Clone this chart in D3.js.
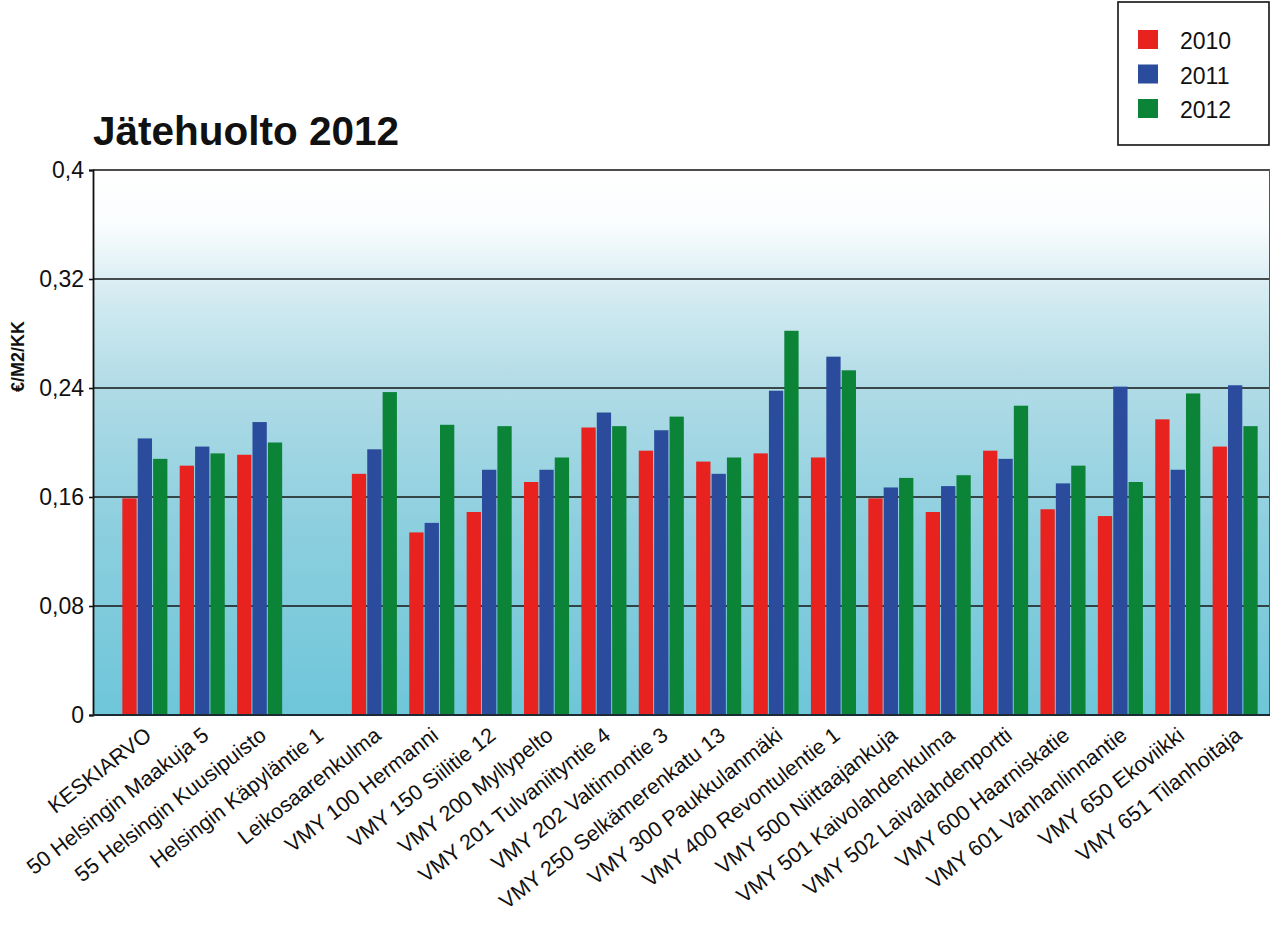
<!DOCTYPE html>
<html>
<head>
<meta charset="utf-8">
<script src="https://cdn.jsdelivr.net/npm/d3@7"></script>
<style>
  html, body { margin: 0; padding: 0; background: #fff; }
  svg { display: block; font-family: "Liberation Sans", Arial, sans-serif; }
</style>
</head>
<body>
<svg id="chart" width="1271" height="926"></svg>
<script>
const categories = [
  "KESKIARVO", "50 Helsingin Maakuja 5", "55 Helsingin Kuusipuisto", "Helsingin Käpyläntie 1",
  "Leikosaarenkulma", "VMY 100 Hermanni", "VMY 150 Siilitie 12", "VMY 200 Myllypelto",
  "VMY 201 Tulvaniityntie 4", "VMY 202 Valtimontie 3", "VMY 250 Selkämerenkatu 13",
  "VMY 300 Paukkulanmäki", "VMY 400 Revontulentie 1", "VMY 500 Niittaajankuja",
  "VMY 501 Kaivolahdenkulma", "VMY 502 Laivalahdenportti", "VMY 600 Haarniskatie",
  "VMY 601 Vanhanlinnantie", "VMY 650 Ekoviikki", "VMY 651 Tilanhoitaja"
];
const seriesNames = ["2010", "2011", "2012"];
const values2010 = [0.159, 0.183, 0.191, null, 0.177, 0.134, 0.149, 0.171, 0.211, 0.194, 0.186, 0.192, 0.189, 0.159, 0.149, 0.194, 0.151, 0.146, 0.217, 0.197];
const values2011 = [0.203, 0.197, 0.215, null, 0.195, 0.141, 0.180, 0.180, 0.222, 0.209, 0.177, 0.238, 0.263, 0.167, 0.168, 0.188, 0.170, 0.241, 0.180, 0.242];
const values2012 = [0.188, 0.192, 0.200, null, 0.237, 0.213, 0.212, 0.189, 0.212, 0.219, 0.189, 0.282, 0.253, 0.174, 0.176, 0.227, 0.183, 0.171, 0.236, 0.212];
const yTicks = [0, 0.08, 0.16, 0.24, 0.32, 0.4];
const yTickLabels = ["0", "0,08", "0,16", "0,24", "0,32", "0,4"];
const colors = ["#e8221f", "#2b4c9c", "#0b8438"];
const titleText = "Jätehuolto 2012";
const yLabel = "€/M2/KK";

const seriesValues = [values2010, values2011, values2012];
const svg = d3.select("#chart");

const plot = { left: 93, right: 1270, top: 170, bottom: 715 };

const y = d3.scaleLinear().domain([0, 0.4]).range([plot.bottom, plot.top]);
const x = d3.scaleBand().domain(categories).range([110, 1270]).paddingInner(0.215).paddingOuter(0.215);
const xs = d3.scaleBand().domain(seriesNames).range([0, x.bandwidth()]).paddingInner(0.07);

// gradient background
const defs = svg.append("defs");
const grad = defs.append("linearGradient").attr("id", "bg").attr("x1", 0).attr("y1", 0).attr("x2", 0).attr("y2", 1);
[[0, "#ffffff"], [0.1, "#fafdfe"], [0.22, "#d6ecf2"], [0.4, "#b0dbe6"], [0.65, "#8dcfdf"], [1, "#6ec6d9"]]
  .forEach(([o, c]) => grad.append("stop").attr("offset", o).attr("stop-color", c));

svg.append("rect")
  .attr("x", plot.left).attr("y", plot.top)
  .attr("width", plot.right - plot.left).attr("height", plot.bottom - plot.top)
  .attr("fill", "url(#bg)");

// gridlines
svg.append("g").selectAll("line").data(yTicks.filter(t => t > 0 && t < 0.4)).join("line")
  .attr("x1", plot.left).attr("x2", plot.right)
  .attr("y1", d => y(d)).attr("y2", d => y(d))
  .attr("stroke", "#141414").attr("stroke-width", 1.6);

// bars
const groups = svg.append("g").selectAll("g").data(categories).join("g")
  .attr("transform", d => `translate(${x(d)},0)`);
groups.selectAll("rect")
  .data((c, i) => seriesNames.map((s, j) => ({ s, j, v: seriesValues[j][i] })).filter(d => d.v != null))
  .join("rect")
  .attr("x", d => xs(d.s))
  .attr("width", xs.bandwidth())
  .attr("y", d => y(d.v))
  .attr("height", d => y(0) - y(d.v))
  .attr("fill", d => colors[d.j]);

// frame
svg.append("line").attr("x1", plot.left).attr("x2", plot.right).attr("y1", plot.top).attr("y2", plot.top)
  .attr("stroke", "#111").attr("stroke-width", 1.6);
svg.append("line").attr("x1", plot.right - 0.5).attr("x2", plot.right - 0.5).attr("y1", plot.top).attr("y2", plot.bottom)
  .attr("stroke", "#555").attr("stroke-width", 1);

// y axis
const yAxis = d3.axisLeft(y).tickValues(yTicks).tickFormat((d, i) => yTickLabels[i]).tickSize(4).tickPadding(5);
const ya = svg.append("g").attr("transform", `translate(${plot.left},0)`).call(yAxis);
ya.select(".domain").attr("stroke", "#111").attr("stroke-width", 1.8);
ya.selectAll(".tick line").attr("stroke", "#111").attr("stroke-width", 1.6);
ya.selectAll(".tick text").attr("font-size", 23).attr("fill", "#111")
  .attr("font-family", "'Liberation Sans', Arial, sans-serif");

// x axis
const xAxis = d3.axisBottom(x).tickSize(0).tickPadding(0);
const xa = svg.append("g").attr("transform", `translate(0,${plot.bottom})`).call(xAxis);
xa.select(".domain").attr("stroke", "#1c2a33").attr("stroke-width", 1.8).attr("d", `M${plot.left},0H${plot.right}`);
xa.selectAll(".tick text")
  .attr("font-size", 21.5).attr("fill", "#111")
  .attr("font-family", "'Liberation Sans', Arial, sans-serif")
  .attr("text-anchor", "end")
  .attr("dy", "0")
  .attr("transform", "translate(8,23) rotate(-38)");

// y label
svg.append("text")
  .attr("transform", `translate(24,${(plot.top + plot.bottom) / 2 - 86}) rotate(-90)`)
  .attr("text-anchor", "middle")
  .attr("font-size", 18).attr("font-weight", "bold").attr("fill", "#111")
  .text(yLabel);

// title
svg.append("text").attr("x", 93).attr("y", 145)
  .attr("font-size", 40.5).attr("font-weight", "bold").attr("fill", "#111")
  .text(titleText);

// legend
const lg = svg.append("g");
lg.append("rect").attr("x", 1118).attr("y", 2).attr("width", 151).attr("height", 143)
  .attr("fill", "#fff").attr("stroke", "#111").attr("stroke-width", 1.6);
const li = lg.selectAll("g").data(seriesNames).join("g")
  .attr("transform", (d, i) => `translate(1138,${30 + i * 34.5})`);
li.append("rect").attr("width", 20).attr("height", 19).attr("fill", (d, i) => colors[i]);
li.append("text").attr("x", 42).attr("y", 19).attr("font-size", 23).attr("fill", "#111").text(d => d);
</script>
</body>
</html>
